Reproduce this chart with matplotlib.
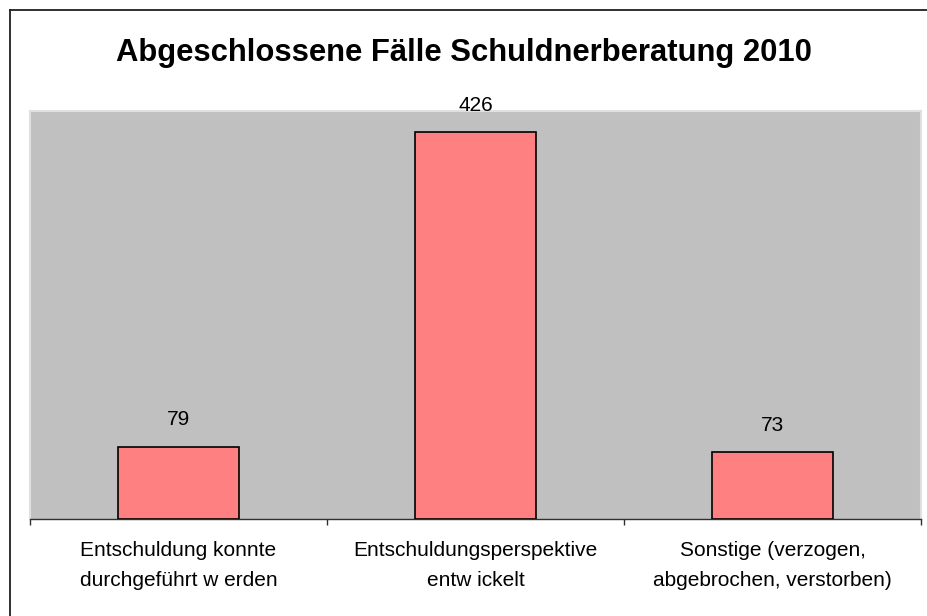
import matplotlib
matplotlib.use("Agg")
import matplotlib.pyplot as plt
from matplotlib.lines import Line2D

categories = ["Entschuldung konnte\ndurchgeführt w erden",
              "Entschuldungsperspektive\nentw ickelt",
              "Sonstige (verzogen,\nabgebrochen, verstorben)"]
values = [79, 426, 73]
title = "Abgeschlossene Fälle Schuldnerberatung 2010"

plt.rcParams['font.family'] = ['Liberation Sans', 'DejaVu Sans']

W, H = 927, 616
fig = plt.figure(figsize=(W / 100, H / 100), dpi=100)
fig.patch.set_facecolor('white')

ax = fig.add_axes([30 / W, 1 - 518.7 / H, (921 - 30) / W, (518.7 - 110.5) / H])
ax.set_facecolor('#C0C0C0')
x = list(range(len(categories)))
bars = ax.bar(x, values, width=0.41, color='#FF8080', edgecolor='black', linewidth=1.2, zorder=3)
ax.set_xlim(-0.5, len(categories) - 0.5)
ax.set_ylim(0, 450)
ax.set_yticks([])

for xi, v in zip(x, values):
    ax.annotate(str(v), (xi, v), xytext=(0, 19.5), textcoords='offset points',
                ha='center', va='center', fontsize=15, color='black')

ax.set_xticks([i - 0.5 for i in range(len(categories) + 1)], minor=False)
ax.set_xticklabels([])
ax.tick_params(axis='x', direction='out', length=4, width=1, color='#303030')
ax.set_xticks(x, minor=True)
ax.set_xticklabels(categories, minor=True, fontsize=15, linespacing=1.75)
ax.tick_params(axis='x', which='minor', length=0, pad=16)

for s in ['top', 'left', 'right']:
    ax.spines[s].set_color('#E0E0E0')
    ax.spines[s].set_linewidth(1.5)
ax.spines['bottom'].set_color('#303030')
ax.spines['bottom'].set_linewidth(1)

fig.text(0.5, 1 - 61 / H, title, ha='center', va='baseline', fontsize=22.3, fontweight='bold')

# outer chart frame
fx = 9.5 / W
fy = 1 - 9.5 / H
fig.add_artist(Line2D([fx, fx], [0, fy], transform=fig.transFigure, color='#202020', lw=1.3))
fig.add_artist(Line2D([fx, 1], [fy, fy], transform=fig.transFigure, color='#202020', lw=1.3))

fig.savefig("out.png", dpi=100)
